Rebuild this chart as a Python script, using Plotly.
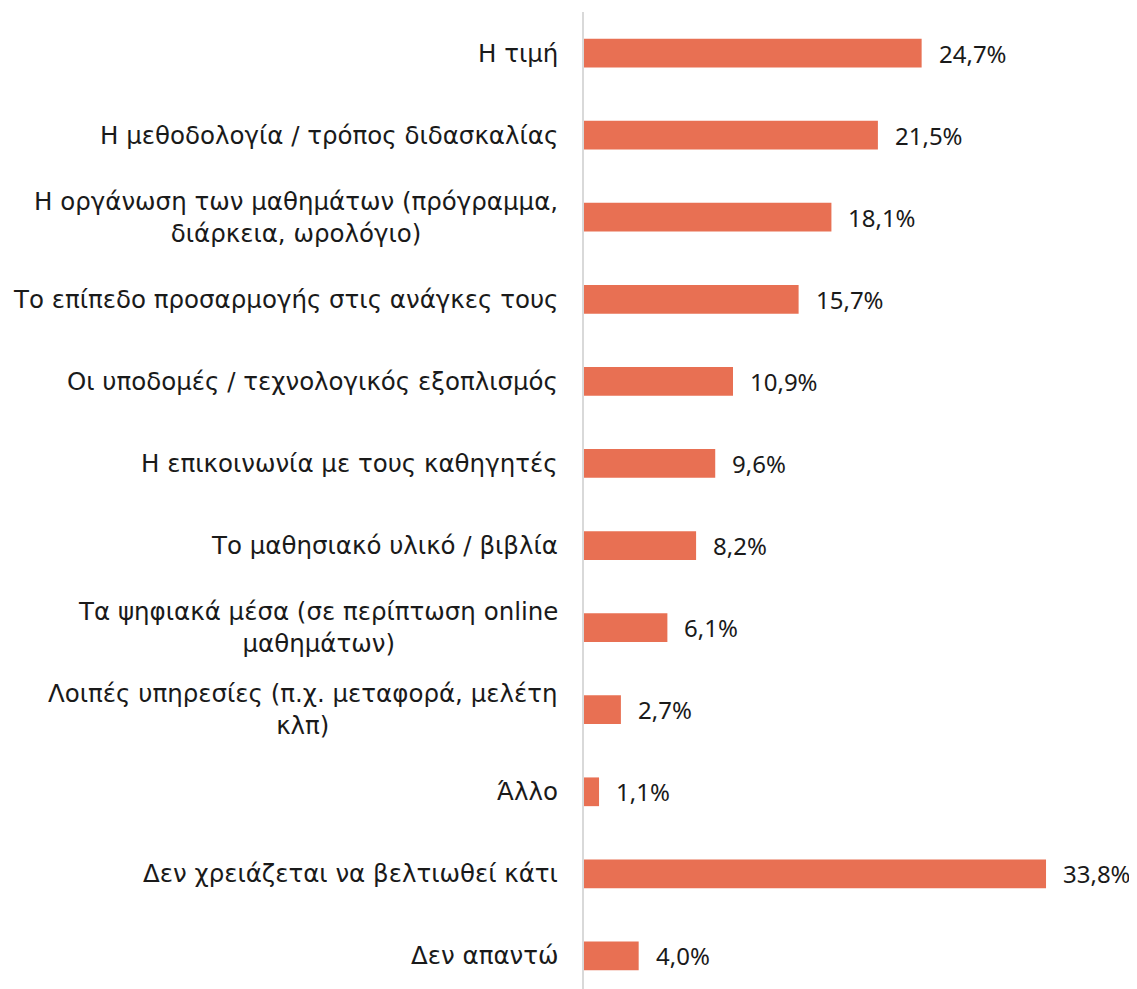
import plotly.graph_objects as go

categories = [
    "Η τιμή",
    "Η μεθοδολογία / τρόπος διδασκαλίας",
    "Η οργάνωση των μαθημάτων (πρόγραμμα,<br>διάρκεια, ωρολόγιο)",
    "Το επίπεδο προσαρμογής στις ανάγκες τους",
    "Οι υποδομές / τεχνολογικός εξοπλισμός",
    "Η επικοινωνία με τους καθηγητές",
    "Το μαθησιακό υλικό / βιβλία",
    "Τα ψηφιακά μέσα (σε περίπτωση online<br>μαθημάτων)",
    "Λοιπές υπηρεσίες (π.χ. μεταφορά, μελέτη<br>κλπ)",
    "Άλλο",
    "Δεν χρειάζεται να βελτιωθεί κάτι",
    "Δεν απαντώ",
]
values = [24.7, 21.5, 18.1, 15.7, 10.9, 9.6, 8.2, 6.1, 2.7, 1.1, 33.8, 4.0]
value_labels = [f"{v:.1f}%".replace(".", ",") for v in values]

LABEL_FONT = "DejaVu Sans"
VALUE_FONT = "Noto Sans"
TEXT = "#1a1a1a"
BAR = "#E87053"

pos = list(range(len(categories)))

fig = go.Figure(go.Bar(
    x=values, y=pos, orientation="h",
    marker=dict(color=BAR, line=dict(width=0)),
    width=0.35, hoverinfo="skip",
))

annotations = []
for p, c in zip(pos, categories):
    annotations.append(dict(
        x=0, xref="x", y=p, yref="y", text=c, showarrow=False,
        xanchor="right", yanchor="middle", align="center", xshift=-24,
        font=dict(family=LABEL_FONT, size=24.5, color=TEXT),
    ))
for p, v, t in zip(pos, values, value_labels):
    annotations.append(dict(
        x=v, xref="x", y=p, yref="y", text=t, showarrow=False,
        xanchor="left", yanchor="middle", xshift=15,
        font=dict(family=VALUE_FONT, size=24, color=TEXT),
    ))

fig.update_layout(
    width=1137, height=989,
    margin=dict(l=576, r=0, t=4, b=0),
    paper_bgcolor="white", plot_bgcolor="white",
    showlegend=False,
    font=dict(family=LABEL_FONT, size=24, color=TEXT),
    annotations=annotations,
    xaxis=dict(range=[0, 41.04], showgrid=False, zeroline=False,
               showticklabels=False, showline=False, fixedrange=True),
    yaxis=dict(range=[11.5, -0.5], showgrid=False, zeroline=False,
               showticklabels=False, showline=True, linecolor="#d9d9d9",
               linewidth=2, fixedrange=True),
)

fig.write_html("out.html")
